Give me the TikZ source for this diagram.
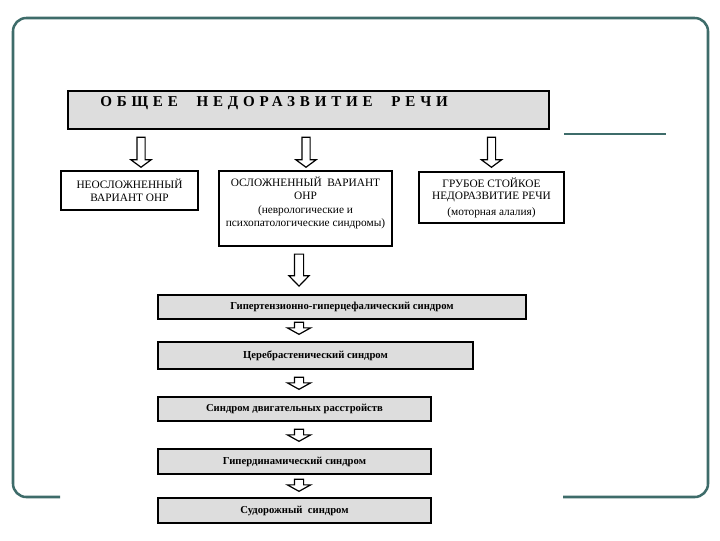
\documentclass[tikz,border=0pt]{standalone}
\usepackage{fontspec}
\setmainfont{Liberation Serif}
\newfontfamily\spacedfont[LetterSpace=32]{Liberation Serif}
\usepackage{xcolor}
\definecolor{colorFrame}{RGB}{62,108,106}
\definecolor{colorBox}{RGB}{221,221,221}
\usetikzlibrary{shapes.arrows, calc, positioning}
\newcommand\upx{0.75pt}
\tikzset{
  plainbox/.style={draw, line width=1.5pt, anchor=north west, align=center, inner sep=0pt,
    font=\fontsize{8.5}{9.5}\selectfont},
  graybox/.style={plainbox, fill=colorBox, font=\bfseries\fontsize{8}{9}\selectfont},
  hollowarrow/.style={single arrow, draw, fill=white, line width=0.9pt,
    single arrow head indent=0pt, shape border rotate=270, anchor=tip},
  toparrow/.style={hollowarrow, inner sep=3.5*\upx, minimum height=30*\upx,
    single arrow head extend=6*\upx, single arrow tip angle=107},
  bigarrow/.style={hollowarrow, inner sep=4*\upx, minimum height=32*\upx,
    single arrow head extend=5.5*\upx, single arrow tip angle=88},
  smallarrow/.style={hollowarrow, inner sep=4*\upx, minimum height=12*\upx,
    single arrow head extend=7*\upx, single arrow tip angle=122}
}

\begin{document}
\begin{tikzpicture}[x=0.75pt, y=-0.75pt]
\useasboundingbox (0,0) rectangle (720,540);
% frame of the slide
\draw[colorFrame, line width=1.9pt, rounded corners=10] (60,497) -- (13,497) -- (13,18) -- (708,18) -- (708,497) -- (563,497);
\draw[colorFrame, line width=2.2pt] (564,134) -- (666,134);

% title
\node[plainbox, fill=colorBox, line width=1.8pt, minimum width=481*\upx, minimum height=38*\upx] (onr) at (67,90) {};
\node[anchor=west, inner sep=0pt, font=\spacedfont\bfseries\fontsize{11.3}{12}\selectfont] (onrtext) at (100,103) {ОБЩЕЕ\hspace{14pt}НЕДОРАЗВИТИЕ\hspace{14pt}РЕЧИ};

% three variants
\node[plainbox, minimum width=137*\upx, minimum height=39*\upx] (simple) at (60,170) {НЕОСЛОЖНЕННЫЙ\\ВАРИАНТ ОНР};
\node[plainbox, minimum width=173*\upx, minimum height=75*\upx] (complex) at (218,170) {};
\node[anchor=north, align=center, inner sep=0pt, font=\fontsize{8.5}{9.5}\selectfont] (complextext) at ($(complex.north)+(0,7)$) {ОСЛОЖНЕННЫЙ\ \ ВАРИАНТ\\ОНР\\[1pt](неврологические и\\психопатологические синдромы)};
\node[plainbox, minimum width=145*\upx, minimum height=51*\upx] (severe) at (418,171) {ГРУБОЕ СТОЙКОЕ\\НЕДОРАЗВИТИЕ РЕЧИ\\[2pt](моторная алалия)};

\node[toparrow] (a1) at ($(simple.north)+(11.5,-2)$) {};
\node[toparrow] (a2) at ($(complex.north)+(0.5,-2)$) {};
\node[toparrow] (a3) at ($(severe.north)+(0,-3)$) {};

% syndromes
\node[graybox, minimum width=368*\upx, minimum height=24*\upx] (s1) at (157,294) {Гипертензионно-гиперцефалический синдром};
\node[graybox, minimum width=315*\upx, minimum height=27*\upx] (s2) at (157,341) {Церебрастенический синдром};
\node[graybox, minimum width=273*\upx, minimum height=24*\upx] (s3) at (157,396) {Синдром двигательных расстройств};
\node[graybox, minimum width=273*\upx, minimum height=25*\upx] (s4) at (157,448) {Гипердинамический синдром};
\node[graybox, minimum width=273*\upx, minimum height=25*\upx] (s5) at (157,497) {Судорожный\ \ синдром};

\node[bigarrow] (a4) at ($(s1.north west)+(142,-7)$) {};
\node[smallarrow] (a5) at ($(s2.north west)+(142,-6)$) {};
\node[smallarrow] (a6) at ($(s3.north west)+(142,-6)$) {};
\node[smallarrow] (a7) at ($(s4.north west)+(142,-6)$) {};
\node[smallarrow] (a8) at ($(s5.north west)+(142,-5)$) {};
\end{tikzpicture}
\end{document}
